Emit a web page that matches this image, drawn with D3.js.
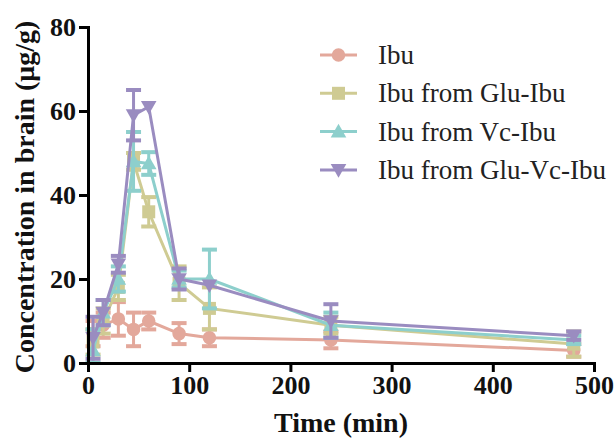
<!DOCTYPE html>
<html>
<head>
<meta charset="utf-8">
<script src="https://cdn.jsdelivr.net/npm/d3@7"></script>
<style>
  body { margin: 0; background: #fff; }
  text { font-family: "Liberation Serif", "Times New Roman", serif; }
</style>
</head>
<body>
<div id="chart"></div>
<script>
const times = [5, 15, 30, 45, 60, 90, 120, 240, 480];
const seriesNames = ["Ibu", "Ibu from Glu-Ibu", "Ibu from Vc-Ibu", "Ibu from Glu-Vc-Ibu"];
const ibuMean = [7, 9, 10.5, 8, 10, 7, 6, 5.5, 3];
const ibuErr = [3, 3, 4, 4, 2, 2.5, 2, 2, 1.5];
const gluMean = [5, 10, 18, 48, 36, 19, 13, 9, 4.5];
const gluErr = [3, 3, 3, 2, 3.5, 4, 5, 2, 3];
const vcMean = [3, 12, 20, 48, 47.5, 20, 20, 9, 5.5];
const vcErr = [5, 3, 3, 7, 2.7, 2, 7, 3, 1];
const gluVcMean = [6, 12, 23.5, 59, 61, 20, 18.5, 10, 6.5];
const gluVcErr = [5, 3, 2, 6, 0, 2.5, 0, 4, 1];
const colors = ["#e3a89b", "#cfcb93", "#8dcfcc", "#9a8cc0"];
const markers = ["circle", "square", "triangle", "down"];
const xTicks = [0, 100, 200, 300, 400, 500];
const yTicks = [0, 20, 40, 60, 80];

const series = [
  { name: seriesNames[0], mean: ibuMean, err: ibuErr },
  { name: seriesNames[1], mean: gluMean, err: gluErr },
  { name: seriesNames[2], mean: vcMean, err: vcErr },
  { name: seriesNames[3], mean: gluVcMean, err: gluVcErr }
];

const width = 616, height = 441;
const margin = { top: 27, right: 22, bottom: 78, left: 88 };

const svg = d3.select("#chart").append("svg")
  .attr("width", width)
  .attr("height", height);

const x = d3.scaleLinear().domain([0, 500]).range([margin.left, width - margin.right]);
const y = d3.scaleLinear().domain([0, 80]).range([height - margin.bottom, margin.top]);

function markerPath(type, size) {
  const s = size;
  if (type === "circle") return d3.symbol(d3.symbolCircle, s * s * 0.85)();
  if (type === "square") return `M${-s / 2},${-s / 2}h${s}v${s}h${-s}Z`;
  if (type === "triangle") return `M0,${-s * 0.6}L${s * 0.6},${s * 0.45}L${-s * 0.6},${s * 0.45}Z`;
  return `M0,${s * 0.6}L${s * 0.6},${-s * 0.45}L${-s * 0.6},${-s * 0.45}Z`;
}

const line = d3.line().x(d => x(d.t)).y(d => y(d.v));

series.forEach((s, i) => {
  const pts = times.map((t, j) => ({ t: t, v: s.mean[j], e: s.err[j] }));
  const g = svg.append("g").attr("class", "series");

  // error bars
  const eb = g.selectAll(".err").data(pts.filter(d => d.e > 0)).join("g");
  eb.append("line")
    .attr("x1", d => x(d.t)).attr("x2", d => x(d.t))
    .attr("y1", d => y(d.v + d.e)).attr("y2", d => y(Math.max(0, d.v - d.e)))
    .attr("stroke", colors[i]).attr("stroke-width", 3);
  eb.append("line")
    .attr("x1", d => x(d.t) - 7.5).attr("x2", d => x(d.t) + 7.5)
    .attr("y1", d => y(d.v + d.e)).attr("y2", d => y(d.v + d.e))
    .attr("stroke", colors[i]).attr("stroke-width", 4);
  eb.append("line")
    .attr("x1", d => x(d.t) - 7.5).attr("x2", d => x(d.t) + 7.5)
    .attr("y1", d => y(Math.max(0, d.v - d.e))).attr("y2", d => y(Math.max(0, d.v - d.e)))
    .attr("stroke", colors[i]).attr("stroke-width", 4);

  g.append("path")
    .datum(pts)
    .attr("d", line)
    .attr("fill", "none")
    .attr("stroke", colors[i])
    .attr("stroke-width", 3);

  g.selectAll(".mk").data(pts).join("path")
    .attr("transform", d => `translate(${x(d.t)},${y(d.v)})`)
    .attr("d", markerPath(markers[i], 13))
    .attr("fill", colors[i]);
});

// axes
const xAxis = svg.append("g")
  .attr("transform", `translate(0,${height - margin.bottom})`)
  .call(d3.axisBottom(x).tickValues(xTicks).tickSize(9).tickPadding(4));
const yAxis = svg.append("g")
  .attr("transform", `translate(${margin.left},0)`)
  .call(d3.axisLeft(y).tickValues(yTicks).tickSize(9).tickPadding(3));

[xAxis, yAxis].forEach(a => {
  a.select(".domain").attr("stroke", "#000").attr("stroke-width", 3);
  a.selectAll(".tick line").attr("stroke", "#000").attr("stroke-width", 3);
  a.selectAll(".tick text")
    .attr("fill", "#111")
    .style("font-family", "'Liberation Serif', serif")
    .style("font-size", "26px")
    .style("font-weight", "bold");
});

svg.append("text")
  .attr("x", (margin.left + width - margin.right) / 2)
  .attr("y", 432)
  .attr("text-anchor", "middle")
  .style("font-size", "28px")
  .style("font-weight", "bold")
  .attr("fill", "#111")
  .text("Time (min)");

svg.append("text")
  .attr("transform", `translate(34,197) rotate(-90)`)
  .attr("text-anchor", "middle")
  .style("font-size", "28px")
  .style("font-weight", "bold")
  .attr("fill", "#111")
  .text("Concentration in brain (μg/g)");

// legend
const legend = svg.append("g").attr("transform", "translate(320,55)");
const items = legend.selectAll(".leg").data(series).join("g")
  .attr("transform", (d, i) => `translate(0,${i * 38.3})`);
items.append("line")
  .attr("x1", 0).attr("x2", 37).attr("y1", 0).attr("y2", 0)
  .attr("stroke", (d, i) => colors[i]).attr("stroke-width", 3);
items.append("path")
  .attr("transform", "translate(18.5,0)")
  .attr("d", (d, i) => markerPath(markers[i], 13))
  .attr("fill", (d, i) => colors[i]);
items.append("text")
  .attr("x", 58).attr("y", 9)
  .style("font-size", "27px")
  .attr("fill", "#222")
  .text(d => d.name);
</script>
</body>
</html>
